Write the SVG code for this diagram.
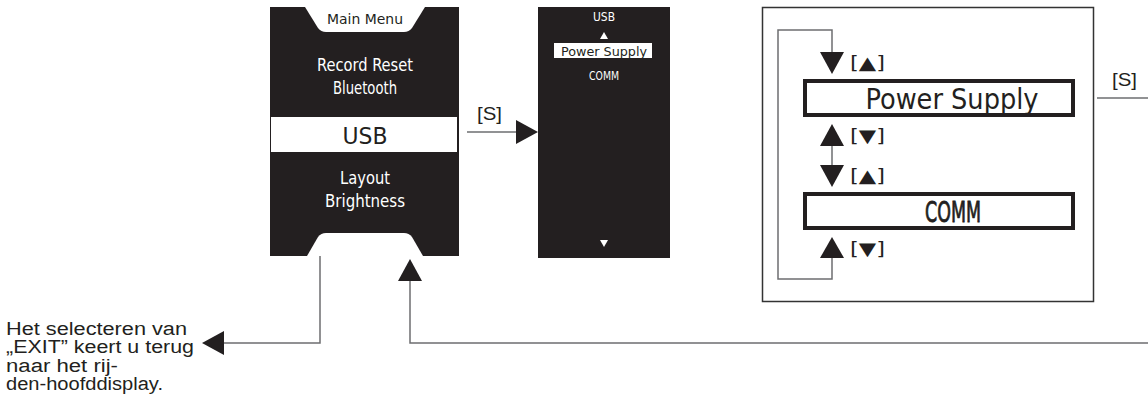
<svg xmlns="http://www.w3.org/2000/svg" width="1148" height="405" viewBox="0 0 1148 405">
<style>
.scr{fill:#231f20}
.lcd{font-family:"DejaVu Sans Condensed","DejaVu Sans",sans-serif;text-anchor:middle}
.w{fill:#ffffff}
.k{fill:#231f20}
.lab{font-family:"Liberation Sans","DejaVu Sans",Arial,sans-serif;font-size:18px;fill:#231f20}
.key{font-family:"DejaVu Sans","Liberation Sans",sans-serif;font-size:18px;fill:#231f20}
.con{fill:none;stroke:#6d6e70;stroke-width:1.5}
.ah{fill:#231f20}
</style>
<rect width="1148" height="405" fill="#ffffff"/>
<g id="main-menu">
<rect class="scr" x="270" y="7" width="189" height="249"/>
<path d="M305,7 H425 L412,28 Q409,32 404,32 H326 Q321,32 318,28 Z" fill="#ffffff"/>
<text class="lcd k" x="365" y="24" font-size="14" textLength="76" lengthAdjust="spacingAndGlyphs">Main Menu</text>
<text class="lcd w" x="365" y="71" font-size="18" textLength="96" lengthAdjust="spacingAndGlyphs">Record Reset</text>
<text class="lcd w" x="365" y="94" font-size="18" textLength="64" lengthAdjust="spacingAndGlyphs">Bluetooth</text>
<rect x="271" y="117" width="186" height="35" fill="#ffffff"/>
<text class="lcd k" x="365" y="144" font-size="23" textLength="45" lengthAdjust="spacingAndGlyphs">USB</text>
<text class="lcd w" x="365" y="184" font-size="18" textLength="50" lengthAdjust="spacingAndGlyphs">Layout</text>
<text class="lcd w" x="365" y="207" font-size="18" textLength="80" lengthAdjust="spacingAndGlyphs">Brightness</text>
<path d="M307,256 L318,237 Q321,233 326,233 H404 Q409,233 412,237 L423,256 Z" fill="#ffffff"/>
</g>
<g id="usb-screen">
<rect class="scr" x="538" y="7" width="132" height="251"/>
<text class="lcd w" x="604" y="21" font-size="13" textLength="22" lengthAdjust="spacingAndGlyphs">USB</text>
<polygon points="604,32 600,39 608,39" fill="#ffffff"/>
<rect x="554" y="43" width="98" height="15" fill="#ffffff"/>
<text class="lcd k" x="604" y="56" font-size="13" textLength="86" lengthAdjust="spacingAndGlyphs">Power Supply</text>
<text class="lcd w" x="604" y="80" font-size="13" textLength="30" lengthAdjust="spacingAndGlyphs">COMM</text>
<polygon points="604,247 600,240 608,240" fill="#ffffff"/>
</g>
<g id="select-panel">
<rect x="762.5" y="7.5" width="331" height="294" fill="none" stroke="#333333" stroke-width="1.5"/>
<rect x="805" y="81" width="268" height="34" fill="#ffffff" stroke="#231f20" stroke-width="4"/>
<text class="lcd k" x="952" y="109" font-size="29" textLength="173" lengthAdjust="spacingAndGlyphs">Power Supply</text>
<rect x="805" y="194" width="268" height="34" fill="#ffffff" stroke="#231f20" stroke-width="4"/>
<text class="lcd k" x="953" y="222" font-size="29" stroke="#231f20" stroke-width="0.8" textLength="56" lengthAdjust="spacingAndGlyphs">COMM</text>
<text class="key" x="850" y="69" textLength="35" lengthAdjust="spacingAndGlyphs">[▲]</text>
<text class="key" x="850" y="142" textLength="35" lengthAdjust="spacingAndGlyphs">[▼]</text>
<text class="key" x="850" y="182" textLength="35" lengthAdjust="spacingAndGlyphs">[▲]</text>
<text class="key" x="850" y="255" textLength="35" lengthAdjust="spacingAndGlyphs">[▼]</text>
</g>
<g id="exit-note">
<text class="lab" x="6" y="335" font-size="17" textLength="181" lengthAdjust="spacingAndGlyphs">Het selecteren van</text>
<text class="lab" x="6" y="353" font-size="17" textLength="188" lengthAdjust="spacingAndGlyphs">„EXIT” keert u terug</text>
<text class="lab" x="6" y="372" font-size="17" textLength="112" lengthAdjust="spacingAndGlyphs">naar het rij-</text>
<text class="lab" x="6" y="390" font-size="17" textLength="157" lengthAdjust="spacingAndGlyphs">den-hoofddisplay.</text>
</g>
<g id="connectors">
<path class="con" d="M467,132 H518"/>
<polygon class="ah" points="538,132 516,120 516,144"/>
<text class="lab" x="477" y="120" textLength="25" lengthAdjust="spacingAndGlyphs">[S]</text>
<path class="con" d="M320,256 V343 H222"/>
<polygon class="ah" points="202,343 224,331 224,355"/>
<path class="con" d="M1148,343 H410 V280"/>
<polygon class="ah" points="410,259 398,281 422,281"/>
<path class="con" d="M1097,98 H1148"/>
<text class="lab" x="1112" y="86" textLength="25" lengthAdjust="spacingAndGlyphs">[S]</text>
<path class="con" d="M832,146 V165"/>
<path class="con" d="M832,258 V279 H778 V30 H832 V52"/>
<polygon class="ah" points="820,52 844,52 832,74"/>
<polygon class="ah" points="832,124 820,146 844,146"/>
<polygon class="ah" points="820,165 844,165 832,187"/>
<polygon class="ah" points="832,237 820,258 844,258"/>
</g>
</svg>
